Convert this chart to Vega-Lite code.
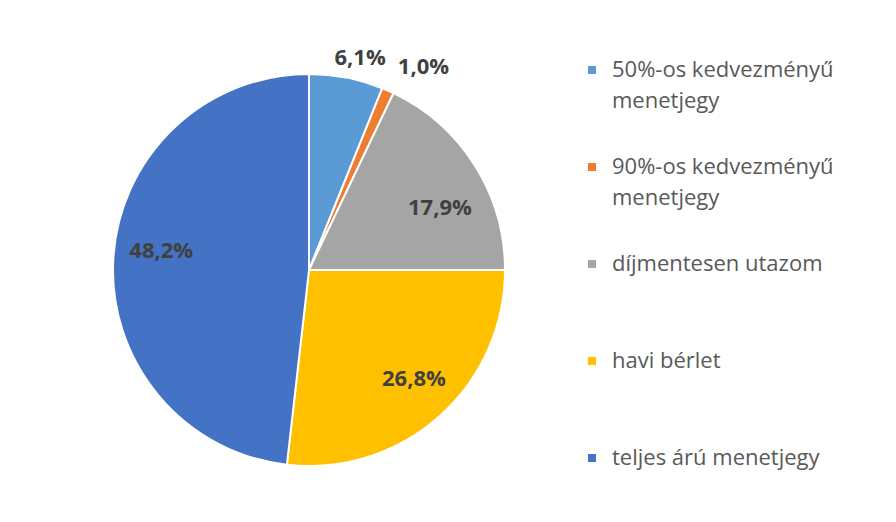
{
  "$schema": "https://vega.github.io/schema/vega-lite/v6.json",
  "width": 392,
  "height": 392,
  "autosize": "none",
  "padding": {"left": 113, "top": 74, "right": 391, "bottom": 56},
  "background": "white",
  "config": {
    "view": {"stroke": null},
    "font": "Open Sans",
    "style": {"guide-label": {"lineHeight": 31}}
  },
  "data": {
    "values": [
      {"category": "50%-os kedvezményű menetjegy", "share": 6.1, "idx": 1},
      {"category": "90%-os kedvezményű menetjegy", "share": 1.0, "idx": 2},
      {"category": "díjmentesen utazom", "share": 17.9, "idx": 3},
      {"category": "havi bérlet", "share": 26.8, "idx": 4},
      {"category": "teljes árú menetjegy", "share": 48.2, "idx": 5}
    ]
  },
  "encoding": {
    "theta": {"field": "share", "type": "quantitative", "stack": true},
    "order": {"field": "idx", "type": "quantitative"},
    "color": {
      "field": "category",
      "type": "nominal",
      "sort": ["50%-os kedvezményű menetjegy", "90%-os kedvezményű menetjegy", "díjmentesen utazom", "havi bérlet", "teljes árú menetjegy"],
      "scale": {
        "domain": ["50%-os kedvezményű menetjegy", "90%-os kedvezményű menetjegy", "díjmentesen utazom", "havi bérlet", "teljes árú menetjegy"],
        "range": ["#5B9BD5", "#ED7D31", "#A5A5A5", "#FFC000", "#4472C4"]
      },
      "legend": {
        "title": null,
        "orient": "none",
        "legendX": 468,
        "legendY": -15,
        "symbolType": "square",
        "symbolSize": 64,
        "symbolStrokeWidth": 0,
        "labelFont": "Open Sans",
        "labelFontSize": 22,
        "labelColor": "#595959",
        "labelLimit": 400,
        "labelOffset": 9,
        "rowPadding": 44,
        "labelExpr": "datum.label == '50%-os kedvezményű menetjegy' ? ['50%-os kedvezményű', 'menetjegy'] : datum.label == '90%-os kedvezményű menetjegy' ? ['90%-os kedvezményű', 'menetjegy'] : [datum.label, ' ']"
      }
    }
  },
  "layer": [
    {
      "mark": {"type": "arc", "outerRadius": 196, "stroke": "white", "strokeWidth": 2}
    },
    {
      "transform": [
        {"calculate": "replace(format(datum.share, '.1f'), '.', ',') + '%'", "as": "label"}
      ],
      "mark": {
        "type": "text",
        "radius": {"expr": "datum.share < 2 ? 222 : datum.share < 10 ? 216 : 150"},
        "dx": {"expr": "datum.share < 2 ? 25 : datum.share < 10 ? 10 : datum.share < 20 ? 4 : datum.share < 30 ? 5 : 2"},
        "dy": {"expr": "datum.share < 10 ? 0 : datum.share < 20 ? 18 : datum.share < 30 ? -3 : -11"},
        "font": "Open Sans",
        "fontSize": 22,
        "fontWeight": "bold",
        "fill": "#404040"
      },
      "encoding": {
        "text": {"field": "label", "type": "nominal"},
        "color": {"value": "#404040"}
      }
    }
  ]
}
